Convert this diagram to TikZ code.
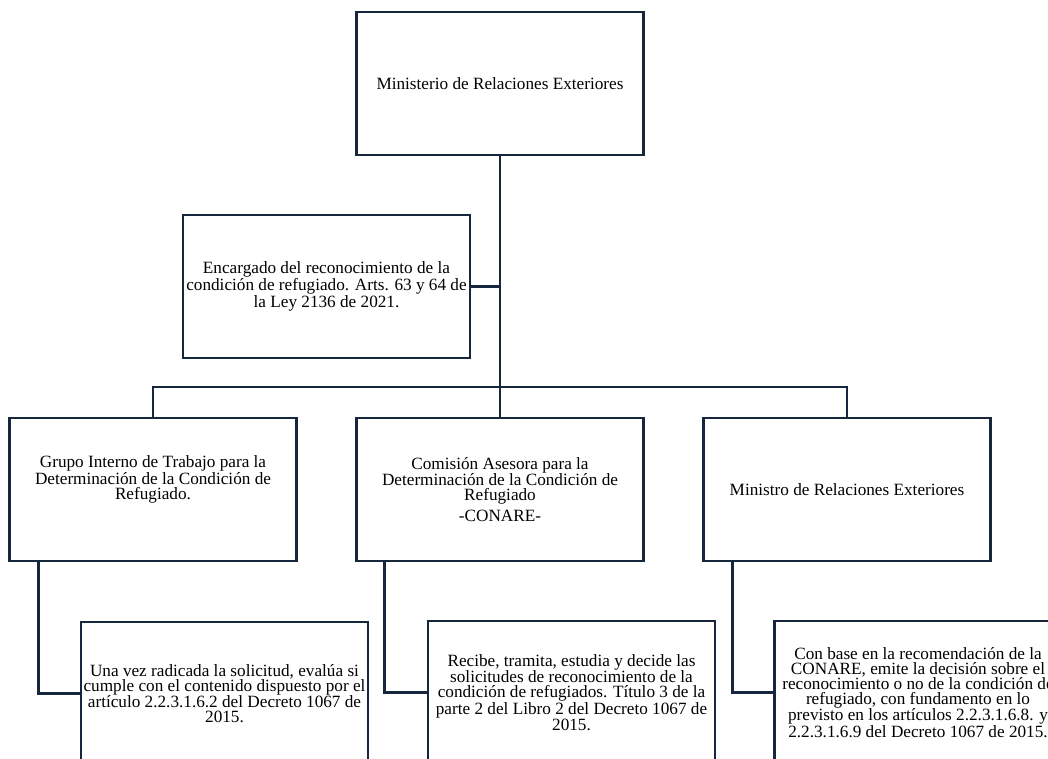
\documentclass[tikz,border=0pt]{standalone}
\usepackage{fontspec}
\setmainfont{Liberation Serif}
\usetikzlibrary{positioning}
\definecolor{navy}{HTML}{15263D}
\tikzset{
    orgbox/.style={
        rectangle,
        draw=navy,
        line width=2.5pt,
        minimum width=287pt,
        minimum height=143pt,
        inner sep=0pt,
        outer sep=0pt,
        fill=white,
        align=center,
        font=\fontsize{17.2}{15}\selectfont
    },
    boxtext/.style={
        align=center,
        inner sep=0pt,
        font=\fontsize{17.2}{15}\selectfont
    },
    link/.style={
        draw=navy,
        line width=2.5pt
    }
}
\begin{document}
\begin{tikzpicture}[x=1pt, y=-1pt]

\useasboundingbox (0,0) rectangle (1048,759);
\clip (0,0) rectangle (1048,759);

% Top level
\node[orgbox] (ministerio) at (500,83.5) {Ministerio de Relaciones Exteriores};
\node[orgbox, below=60pt of ministerio, xshift=-173.5pt] (encargado) {Encargado del reconocimiento de la\\condición de refugiado. Arts. 63 y 64 de\\la Ley 2136 de 2021.};

% Second level
\node[orgbox, below=263pt of ministerio] (comision) {Comisión Asesora para la\\Determinación de la Condición de\\Refugiado\\[5pt]-CONARE-};
\node[orgbox, left=60pt of comision] (grupo) {};
\node[boxtext] at ([yshift=10pt]grupo.center) (grupo_txt) {Grupo Interno de Trabajo para la\\Determinación de la Condición de\\Refugiado.};
\node[orgbox, right=60pt of comision] (ministro) {Ministro de Relaciones Exteriores};

% Functions (cut off at the bottom edge)
\node[orgbox, below=61pt of grupo, xshift=71.5pt] (evalua) {Una vez radicada la solicitud, evalúa si\\cumple con el contenido dispuesto por el\\artículo 2.2.3.1.6.2 del Decreto 1067 de\\2015.};
\node[orgbox, below=60pt of comision, xshift=71.5pt] (tramita) {Recibe, tramita, estudia y decide las\\solicitudes de reconocimiento de la\\condición de refugiados. Título 3 de la\\parte 2 del Libro 2 del Decreto 1067 de\\2015.};
\node[orgbox, below=60pt of ministro, xshift=71pt] (decide) {Con base en la recomendación de la\\CONARE, emite la decisión sobre el\\reconocimiento o no de la condición de\\refugiado, con fundamento en lo\\previsto en los artículos 2.2.3.1.6.8. y\\2.2.3.1.6.9 del Decreto 1067 de 2015.};

% Connections
\coordinate (bus) at ([yshift=31pt]comision.north);
\draw[link] (ministerio.south) -- (bus);
\draw[link] (encargado.east) -- (encargado.east -| bus);
\draw[link] (grupo.north) |- (bus) -| (ministro.north);
\draw[link] (bus) -- (comision.north);
\draw[link] ([xshift=29pt]grupo.south west) |- (evalua.west);
\draw[link] ([xshift=28pt]comision.south west) |- (tramita.west);
\draw[link] ([xshift=29pt]ministro.south west) |- (decide.west);

\end{tikzpicture}
\end{document}
